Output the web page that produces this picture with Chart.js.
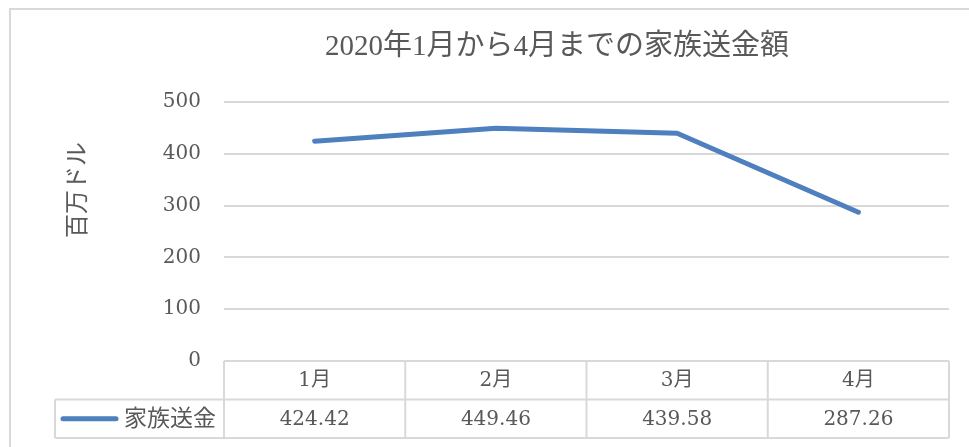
<!DOCTYPE html>
<html>
<head>
<meta charset="utf-8">
<script src="https://cdn.jsdelivr.net/npm/chart.js@4"></script>
<style>
    html, body { margin: 0; padding: 0; background: #fff; }
    #wrap { width: 969px; height: 447px; position: relative; }
</style>
</head>
<body>
<div id="wrap"><canvas id="remit-chart"></canvas></div>
<script>
// データ
const months = ['1月', '2月', '3月', '4月'];
const remittance = [424.42, 449.46, 439.58, 287.26];
const valueLabels = ['424.42', '449.46', '439.58', '287.26'];
const seriesName = '家族送金';
const chartTitle = '2020年1月から4月までの家族送金額';
const yTitle = '百万ドル';

const SERIF = "'Liberation Serif', 'Noto Sans CJK JP', serif";
const NUMF = "'DejaVu Serif', 'Noto Sans CJK JP', serif";
const TEXT = '#595959';
const GRID = '#d9d9d9';
const LINE = '#4e7fbe';

// 枠・タイトル・データテーブル描画
const tablePlugin = {
    id: 'dataTable',
    beforeDraw(chart) {
        const ctx = chart.ctx;
        ctx.save();
        ctx.strokeStyle = GRID;
        ctx.lineWidth = 2;
        ctx.strokeRect(10, 9, 1000, 500);
        ctx.restore();
    },
    afterDraw(chart) {
        const ctx = chart.ctx;
        const area = chart.chartArea;
        const x = chart.scales.x;
        const rowH = 38.5;
        const top = area.bottom;
        const mid = top + rowH;
        const bottom = mid + rowH;
        const legendLeft = 55;
        const step = (area.right - area.left) / months.length;

        ctx.save();
        // タイトル
        ctx.fillStyle = TEXT;
        ctx.font = '29px ' + SERIF;
        ctx.textAlign = 'center';
        ctx.textBaseline = 'middle';
        ctx.fillText(chartTitle, 557, 47);

        // 縦軸タイトル
        ctx.save();
        ctx.translate(79, 190);
        ctx.rotate(-Math.PI / 2);
        ctx.font = '24px ' + SERIF;
        ctx.fillText(yTitle, 0, 0);
        ctx.restore();

        // 罫線
        ctx.strokeStyle = GRID;
        ctx.lineWidth = 2;
        ctx.beginPath();
        ctx.moveTo(area.left, top); ctx.lineTo(area.right, top);
        ctx.moveTo(legendLeft, mid); ctx.lineTo(area.right, mid);
        ctx.moveTo(legendLeft, bottom); ctx.lineTo(area.right, bottom);
        ctx.moveTo(legendLeft, mid); ctx.lineTo(legendLeft, bottom);
        for (let i = 0; i <= months.length; i++) {
            const cx = area.left + step * i;
            ctx.moveTo(cx, top); ctx.lineTo(cx, bottom);
        }
        ctx.stroke();

        // 文字
        ctx.fillStyle = TEXT;
        ctx.font = '20px ' + NUMF;
        months.forEach((m, i) => {
            const cx = x.getPixelForValue(i);
            ctx.fillText(m, cx, top + rowH / 2 + 1);
            ctx.fillText(valueLabels[i], cx, mid + rowH / 2 + 1);
        });

        // 凡例
        ctx.strokeStyle = LINE;
        ctx.lineWidth = 5;
        ctx.lineCap = 'round';
        ctx.beginPath();
        ctx.moveTo(63, mid + rowH / 2);
        ctx.lineTo(116, mid + rowH / 2);
        ctx.stroke();
        ctx.textAlign = 'right';
        ctx.font = '23px ' + SERIF;
        ctx.fillText(seriesName, area.left - 8, mid + rowH / 2 + 1);
        ctx.restore();
    }
};

new Chart(document.getElementById('remit-chart'), {
    type: 'line',
    data: {
        labels: months,
        datasets: [{
            label: seriesName,
            data: remittance,
            borderColor: LINE,
            borderWidth: 5,
            borderCapStyle: 'round',
            borderJoinStyle: 'round',
            pointRadius: 0,
            tension: 0,
            fill: false
        }]
    },
    options: {
        responsive: true,
        maintainAspectRatio: false,
        animation: false,
        layout: {
            padding: { top: 102, right: 20, bottom: 78, left: 60 }
        },
        plugins: {
            legend: { display: false },
            title: { display: false },
            tooltip: { enabled: false }
        },
        scales: {
            x: {
                offset: true,
                grid: { display: false },
                border: { display: false },
                ticks: { display: false }
            },
            y: {
                min: 0,
                max: 500,
                ticks: {
                    stepSize: 100,
                    color: TEXT,
                    padding: 23,
                    font: { family: NUMF, size: 20 }
                },
                grid: { color: GRID, lineWidth: 2, drawTicks: false },
                border: { display: false },
                afterFit(scale) { scale.width = 164; }
            }
        }
    },
    plugins: [tablePlugin]
});
</script>
</body>
</html>
